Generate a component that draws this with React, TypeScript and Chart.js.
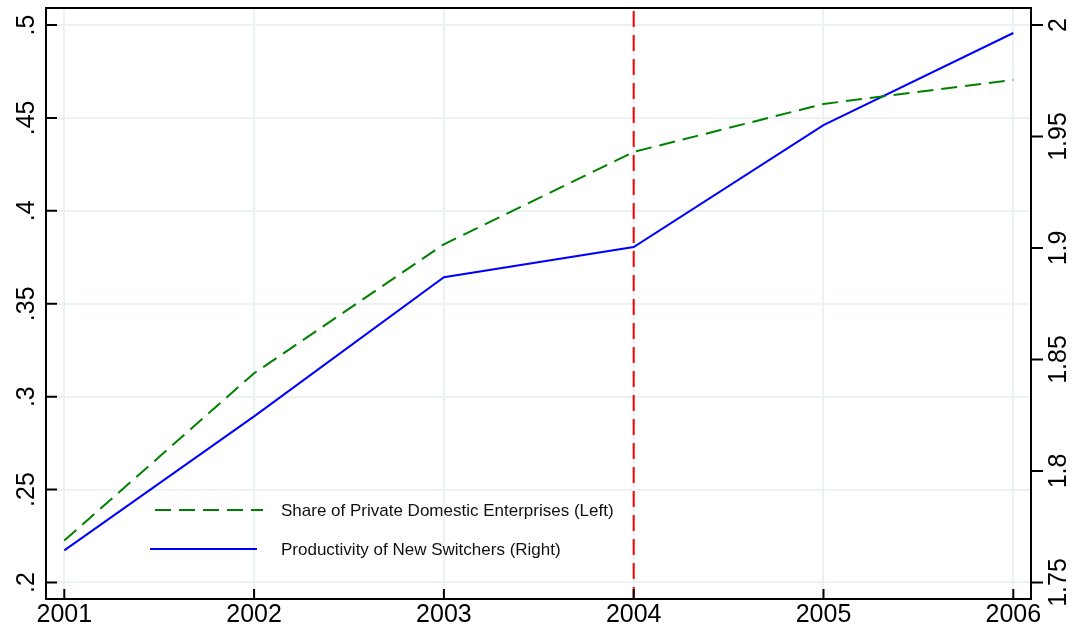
import React, { useEffect, useRef } from "react";
import { Chart, registerables } from "chart.js";

Chart.register(...registerables);

const years = [2001, 2002, 2003, 2004, 2005, 2006];
const shareValues = [0.2226, 0.3126, 0.382, 0.4317, 0.4575, 0.4705];
const productivityValues = [1.7644, 1.8245, 1.8869, 1.9004, 1.9551, 1.9964];
const leftTicks = [0.2, 0.25, 0.3, 0.35, 0.4, 0.45, 0.5];
const leftTickLabels = [".2", ".25", ".3", ".35", ".4", ".45", ".5"];
const rightTicks = [1.75, 1.8, 1.85, 1.9, 1.95, 2];
const rightTickLabels = ["1.75", "1.8", "1.85", "1.9", "1.95", "2"];
const markerYear = 2004;
const shareLabel = "Share of Private Domestic Enterprises (Left)";
const productivityLabel = "Productivity of New Switchers (Right)";

const FONT = '"Liberation Sans", Arial, Helvetica, sans-serif';
const GREEN = "#008000";
const BLUE = "#0000ff";
const RED = "#ff0000";
const GRID = "#eaf2f3";

const stataPlugin = {
  id: "stataDecor",
  beforeDatasetsDraw(chart: any) {
    const { ctx, chartArea, scales } = chart;
    const x = scales.x.getPixelForValue(markerYear);
    ctx.save();
    ctx.strokeStyle = RED;
    ctx.lineWidth = 2;
    ctx.setLineDash([16, 8]);
    ctx.beginPath();
    ctx.moveTo(x, chartArea.top + 3);
    ctx.lineTo(x, chartArea.bottom);
    ctx.stroke();
    ctx.restore();
  },
  afterDraw(chart: any) {
    const { ctx, chartArea, scales } = chart;
    const { left, right, top, bottom } = chartArea;
    ctx.save();
    // frame
    ctx.strokeStyle = "#000";
    ctx.lineWidth = 2;
    ctx.setLineDash([]);
    ctx.strokeRect(left, top, right - left, bottom - top);
    // tick marks
    ctx.lineWidth = 2;
    ctx.beginPath();
    leftTicks.forEach((v) => {
      const y = scales.y.getPixelForValue(v);
      ctx.moveTo(left, y);
      ctx.lineTo(left + 11, y);
    });
    rightTicks.forEach((v) => {
      const y = scales.y1.getPixelForValue(v);
      ctx.moveTo(right, y);
      ctx.lineTo(right + 12, y);
    });
    years.forEach((v) => {
      const x = scales.x.getPixelForValue(v);
      ctx.moveTo(x, bottom);
      ctx.lineTo(x, bottom - 10);
    });
    ctx.stroke();
    // rotated y tick labels
    ctx.fillStyle = "#000";
    ctx.font = `25px ${FONT}`;
    ctx.textAlign = "center";
    ctx.textBaseline = "middle";
    leftTicks.forEach((v, i) => {
      const y = scales.y.getPixelForValue(v);
      ctx.save();
      ctx.translate(27, y);
      ctx.rotate(-Math.PI / 2);
      ctx.fillText(leftTickLabels[i], 0, 0);
      ctx.restore();
    });
    rightTicks.forEach((v, i) => {
      const y = scales.y1.getPixelForValue(v);
      ctx.save();
      ctx.translate(1059, y);
      ctx.rotate(-Math.PI / 2);
      ctx.fillText(rightTickLabels[i], 0, 0);
      ctx.restore();
    });
    // legend
    ctx.lineWidth = 2;
    ctx.strokeStyle = GREEN;
    ctx.setLineDash([16, 8]);
    ctx.beginPath();
    ctx.moveTo(155, 510);
    ctx.lineTo(263, 510);
    ctx.stroke();
    ctx.strokeStyle = BLUE;
    ctx.setLineDash([]);
    ctx.beginPath();
    ctx.moveTo(150, 549);
    ctx.lineTo(257, 549);
    ctx.stroke();
    ctx.fillStyle = "#111";
    ctx.font = `17px ${FONT}`;
    ctx.textAlign = "left";
    ctx.textBaseline = "middle";
    ctx.fillText(shareLabel, 281, 511);
    ctx.fillText(productivityLabel, 281, 550);
    ctx.restore();
  },
};

export default function App() {
  const canvasRef = useRef<HTMLCanvasElement | null>(null);

  useEffect(() => {
    if (!canvasRef.current) return;
    const chart = new Chart(canvasRef.current, {
      type: "line",
      data: {
        datasets: [
          {
            label: shareLabel,
            data: years.map((x, i) => ({ x, y: shareValues[i] })),
            borderColor: GREEN,
            borderWidth: 2,
            borderDash: [16, 8],
            pointRadius: 0,
            tension: 0,
            yAxisID: "y",
          },
          {
            label: productivityLabel,
            data: years.map((x, i) => ({ x, y: productivityValues[i] })),
            borderColor: BLUE,
            borderWidth: 2,
            pointRadius: 0,
            tension: 0,
            yAxisID: "y1",
          },
        ],
      },
      options: {
        responsive: false,
        animation: false,
        devicePixelRatio: 1,
        layout: { padding: { top: 8, left: 0, right: 0, bottom: 0 } },
        plugins: {
          legend: { display: false },
          tooltip: { enabled: false },
          title: { display: false },
        },
        scales: {
          x: {
            type: "linear",
            min: 2000.9036,
            max: 2006.0933,
            afterBuildTicks: (scale: any) => {
              scale.ticks = years.map((v) => ({ value: v }));
            },
            afterFit: (scale: any) => {
              scale.height = 35;
            },
            grid: { color: GRID, lineWidth: 2, drawTicks: false },
            border: { display: false },
            ticks: {
              color: "#000",
              font: { family: FONT, size: 25 },
              padding: 1,
              maxRotation: 0,
              autoSkip: false,
              callback: (v: any) => String(v),
            },
          },
          y: {
            type: "linear",
            position: "left",
            min: 0.19112,
            max: 0.50915,
            afterBuildTicks: (scale: any) => {
              scale.ticks = leftTicks.map((v) => ({ value: v }));
            },
            afterFit: (scale: any) => {
              scale.width = 46;
            },
            grid: { color: GRID, lineWidth: 2, drawTicks: false },
            border: { display: false },
            ticks: { display: false },
          },
          y1: {
            type: "linear",
            position: "right",
            min: 1.7426,
            max: 2.00762,
            afterBuildTicks: (scale: any) => {
              scale.ticks = rightTicks.map((v) => ({ value: v }));
            },
            afterFit: (scale: any) => {
              scale.width = 47;
            },
            grid: { drawOnChartArea: false, drawTicks: false },
            border: { display: false },
            ticks: { display: false },
          },
        },
      },
      plugins: [stataPlugin],
    });
    return () => chart.destroy();
  }, []);

  return (
    <div
      style={{
        position: "fixed",
        left: 0,
        top: 0,
        width: 1078,
        height: 634,
        background: "#fff",
      }}
    >
      <canvas ref={canvasRef} width={1078} height={634} style={{ width: 1078, height: 634, display: "block" }} />
    </div>
  );
}
